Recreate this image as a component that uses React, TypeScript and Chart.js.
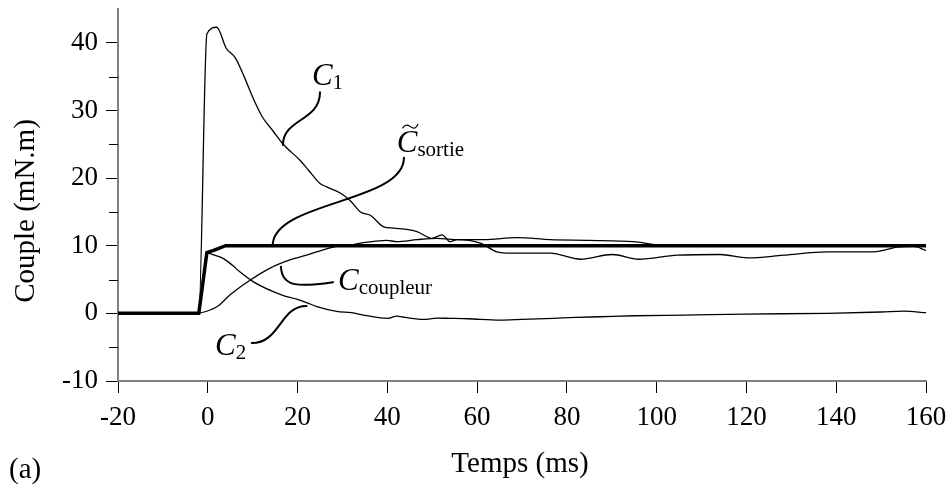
import React, { useEffect, useRef } from "react";
import { Chart, registerables } from "chart.js";

Chart.register(...registerables);

// ---- axis ticks ----
const xTicks = [-20, 0, 20, 40, 60, 80, 100, 120, 140, 160];
const yTicks = [-10, 0, 10, 20, 30, 40];
const yMinorTicks = [-5, 5, 15, 25, 35];

// ---- series (time in ms, torque in mN.m) ----
const tSortie = [-20, -2, -0.2, 1.3, 4, 160];
const cSortie = [0, 0, 9.0, 9.3, 10, 10];

const tC1 = [-20, -2, -0.2, 2.0, 4.1, 6.1, 8.1, 10.3, 12.2, 14.5, 16.8, 20.6, 22.4, 25, 26.5, 29.5, 31.7, 34, 36.2, 39.2, 41.4, 46.6, 49.9, 52.2, 54, 55.5, 60.7, 64.4, 67.4, 76.3, 83, 90.1, 96, 104.6, 114.2, 120.2, 128.3, 138, 148.4, 153.6, 157.3, 160];
const cC1 = [0, 0, 41.3, 42.3, 39.2, 37.8, 35.0, 31.5, 29.0, 27.0, 25.0, 22.6, 21.2, 19.2, 18.7, 17.8, 16.7, 15.0, 14.5, 12.8, 12.6, 12.1, 11.1, 11.6, 10.6, 10.9, 10.4, 9.1, 8.9, 8.9, 8.0, 8.7, 8.0, 8.6, 8.7, 8.2, 8.6, 9.1, 9.1, 9.8, 9.9, 9.3];

const tCoupleur = [-20, -2.0, 0.5, 2.3, 4.9, 9.4, 13.9, 18.3, 22, 25.7, 28.7, 31.7, 34, 39.9, 42.1, 46.6, 51.1, 55, 61.5, 68.9, 76.3, 85, 94.8, 101, 110, 160];
const cCoupleur = [0, 0.05, 0.5, 1.1, 2.7, 4.9, 6.7, 7.9, 8.6, 9.4, 9.9, 10.1, 10.4, 10.8, 10.6, 10.9, 11.1, 10.9, 10.9, 11.2, 10.9, 10.8, 10.6, 10.1, 10.0, 10.0];

const tC2 = [-20, -2, -0.2, 2, 3.5, 5.5, 7.2, 10.1, 14.6, 17, 19.8, 22, 24.3, 28.7, 32, 35, 40.2, 42.1, 44, 48.1, 51, 54, 58, 65.1, 70, 76.9, 82, 87.4, 95, 106, 120, 138, 150, 155, 160];
const cC2 = [0, 0, 8.9, 8.5, 8.1, 7.1, 6.1, 4.7, 3.2, 2.6, 2.1, 1.6, 1.0, 0.3, 0.1, -0.3, -0.74, -0.4, -0.6, -0.9, -0.7, -0.74, -0.8, -1.0, -0.9, -0.74, -0.6, -0.5, -0.35, -0.25, -0.1, 0, 0.2, 0.34, 0.1];

// ---- annotation leaders (bezier control points in data units) ----
const leaderC1 = [[16.75, 24.9], [16.75, 28.8], [25.0, 28.4], [25.0, 32.7]];
const leaderSortie = [[14.45, 10], [14.45, 16.6], [43.7, 16.3], [43.7, 23.0]];
const leaderCoupleur = [[16.3, 6.9], [16.5, 3.8], [20.5, 3.9], [27.9, 4.6]];
const leaderC2 = [[22, 1.1], [16.1, 1.1], [16.1, -4.4], [9.8, -4.4]];

// label anchors (left/baseline of the "C"), data units
const labelC1 = [23.2, 33.7];
const labelSortie = [42.1, 23.8];
const labelCoupleur = [29.0, 3.44];
const labelC2 = [1.6, -6.16];

const SERIF = '"Liberation Serif", "Times New Roman", serif';

const toPts = (t: number[], v: number[]) => t.map((x, i) => ({ x, y: v[i] }));

const overlay = {
  id: "overlay",
  afterDraw(chart: any) {
    const ctx = chart.ctx as CanvasRenderingContext2D;
    const xs = chart.scales.x;
    const ys = chart.scales.y;
    const px = (x: number) => xs.getPixelForValue(x);
    const py = (y: number) => ys.getPixelForValue(y);
    ctx.save();

    // minor ticks on y axis
    ctx.strokeStyle = "#000";
    ctx.lineWidth = 1;
    yMinorTicks.forEach((v) => {
      const y = Math.round(py(v)) + 0.5;
      ctx.beginPath();
      ctx.moveTo(xs.left - 9, y);
      ctx.lineTo(xs.left, y);
      ctx.stroke();
    });

    // leaders
    ctx.lineWidth = 2;
    ctx.lineCap = "round";
    [leaderC1, leaderSortie, leaderCoupleur, leaderC2].forEach((L) => {
      ctx.beginPath();
      ctx.moveTo(px(L[0][0]), py(L[0][1]));
      ctx.bezierCurveTo(px(L[1][0]), py(L[1][1]), px(L[2][0]), py(L[2][1]), px(L[3][0]), py(L[3][1]));
      ctx.stroke();
    });

    // labels
    ctx.fillStyle = "#000";
    ctx.textAlign = "left";
    ctx.textBaseline = "alphabetic";
    const drawLabel = (pos: number[], sub: string, tilde: boolean) => {
      const x = px(pos[0]);
      const y = py(pos[1]);
      ctx.font = `italic 31px ${SERIF}`;
      ctx.fillText("C", x, y);
      const w = ctx.measureText("C").width;
      if (tilde) {
        ctx.lineWidth = 1.2;
        ctx.beginPath();
        const tx = x + 6, ty = y - 26;
        ctx.moveTo(tx, ty + 1.5);
        ctx.bezierCurveTo(tx + 3, ty - 3, tx + 6, ty - 1, tx + 8, ty + 0.5);
        ctx.bezierCurveTo(tx + 10, ty + 2, tx + 13, ty + 3, tx + 15, ty - 2);
        ctx.stroke();
      }
      ctx.font = `21px ${SERIF}`;
      ctx.fillText(sub, x + w, y + 4);
    };
    drawLabel(labelC1, "1", false);
    drawLabel(labelSortie, "sortie", true);
    drawLabel(labelCoupleur, "coupleur", false);
    drawLabel(labelC2, "2", false);

    // axis titles
    ctx.font = `29px ${SERIF}`;
    ctx.textAlign = "center";
    ctx.fillText("Temps (ms)", 520, 472);
    ctx.save();
    ctx.translate(34, 211);
    ctx.rotate(-Math.PI / 2);
    ctx.fillText("Couple (mN.m)", 0, 0);
    ctx.restore();
    ctx.textAlign = "left";
    ctx.fillText("(a)", 9, 478);

    ctx.restore();
  },
};

export default function App() {
  const ref = useRef<HTMLCanvasElement | null>(null);

  useEffect(() => {
    if (!ref.current) return;
    const thin = { borderColor: "#000", borderWidth: 1.3, pointRadius: 0, cubicInterpolationMode: "monotone" as const, fill: false };
    const chart = new Chart(ref.current, {
      type: "line",
      data: {
        datasets: [
          { label: "C1", data: toPts(tC1, cC1), ...thin },
          { label: "Ccoupleur", data: toPts(tCoupleur, cCoupleur), ...thin },
          { label: "C2", data: toPts(tC2, cC2), ...thin },
          { label: "Csortie", data: toPts(tSortie, cSortie), borderColor: "#000", borderWidth: 3.5, pointRadius: 0, tension: 0, fill: false },
        ],
      },
      options: {
        animation: false,
        responsive: false,
        devicePixelRatio: 1,
        layout: { padding: { top: 9, right: 25, left: 0, bottom: 0 } },
        plugins: { legend: { display: false }, tooltip: { enabled: false } },
        scales: {
          x: {
            type: "linear",
            min: -20,
            max: 160,
            afterBuildTicks: (axis: any) => {
              axis.ticks = xTicks.map((v) => ({ value: v }));
            },
            afterFit: (axis: any) => {
              axis.height = 104;
              axis.paddingLeft = 0;
              axis.paddingRight = 0;
              axis.paddingTop = 0;
              axis.paddingBottom = 0;
            },
            grid: { drawOnChartArea: false, drawTicks: true, tickLength: 12, color: "#000", lineWidth: 1 },
            border: { display: true, color: "#808080", width: 2 },
            ticks: { color: "#000", padding: 9, maxRotation: 0, autoSkip: false, font: { family: SERIF, size: 27 } },
          },
          y: {
            type: "linear",
            min: -10,
            max: 45,
            afterBuildTicks: (axis: any) => {
              axis.ticks = yTicks.map((v) => ({ value: v }));
            },
            afterFit: (axis: any) => {
              axis.width = 118;
              axis.paddingLeft = 0;
              axis.paddingRight = 0;
              axis.paddingTop = 0;
              axis.paddingBottom = 0;
            },
            grid: { drawOnChartArea: false, drawTicks: true, tickLength: 12, color: "#000", lineWidth: 1 },
            border: { display: true, color: "#808080", width: 2 },
            ticks: { color: "#000", padding: 8, autoSkip: false, font: { family: SERIF, size: 27 } },
          },
        },
      },
      plugins: [overlay],
    });
    return () => chart.destroy();
  }, []);

  return (
    <div style={{ position: "fixed", left: 0, top: 0, width: 951, height: 485, background: "#fff" }}>
      <canvas ref={ref} width={951} height={485} style={{ display: "block" }} />
    </div>
  );
}
